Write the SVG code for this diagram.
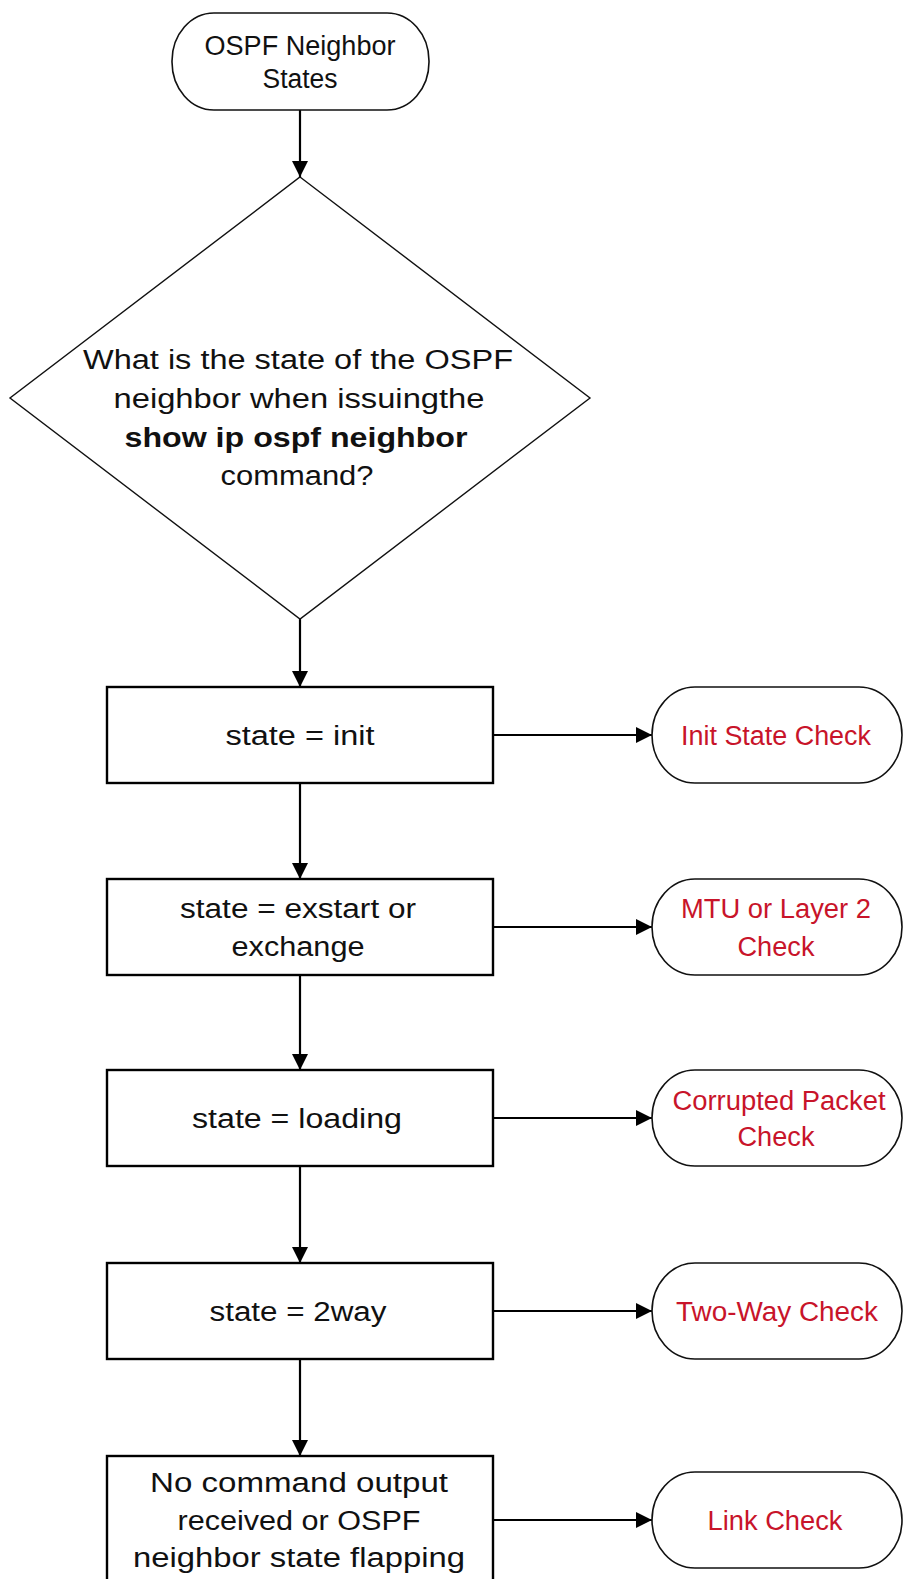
<svg xmlns="http://www.w3.org/2000/svg" width="903" height="1579" viewBox="0 0 903 1579">
  <defs>
    <marker id="ah" viewBox="0 0 16 16" refX="16" refY="8" markerWidth="16" markerHeight="16" orient="auto" markerUnits="userSpaceOnUse">
      <path d="M0,0 L16,8 L0,16 z" fill="#000"/>
    </marker>
    <style>
      .box { fill: #fff; stroke: #000; stroke-width: 2.4; }
      .term { fill: #fff; stroke: #111; stroke-width: 1.6; }
      .dia { fill: #fff; stroke: #111; stroke-width: 1.4; }
      .conn { fill: none; stroke: #000; stroke-width: 2.2; marker-end: url(#ah); }
      text { font-family: "Liberation Sans", Arial, sans-serif; font-size: 27px; text-anchor: middle; fill: #111; }
      .red { fill: #c8142a; }
      .b { font-weight: bold; }
    </style>
  </defs>
  <rect width="903" height="1579" fill="#fff"/>

  <g id="connectors">
    <line class="conn" x1="300" y1="110" x2="300" y2="177"/>
    <line class="conn" x1="300" y1="619" x2="300" y2="687"/>
    <line class="conn" x1="300" y1="783" x2="300" y2="879"/>
    <line class="conn" x1="300" y1="975" x2="300" y2="1070"/>
    <line class="conn" x1="300" y1="1166" x2="300" y2="1263"/>
    <line class="conn" x1="300" y1="1359" x2="300" y2="1456"/>
    <line class="conn" x1="493" y1="735" x2="652" y2="735"/>
    <line class="conn" x1="493" y1="927" x2="652" y2="927"/>
    <line class="conn" x1="493" y1="1118" x2="652" y2="1118"/>
    <line class="conn" x1="493" y1="1311" x2="652" y2="1311"/>
    <line class="conn" x1="493" y1="1520" x2="652" y2="1520"/>
  </g>

  <g id="start">
    <rect class="term" x="172" y="13" width="257" height="97" rx="42" ry="48"/>
    <text x="300" y="55" textLength="191" lengthAdjust="spacingAndGlyphs">OSPF Neighbor</text>
    <text x="300" y="88" textLength="75" lengthAdjust="spacingAndGlyphs">States</text>
  </g>

  <g id="decision">
    <polygon class="dia" points="300,177 590,398 300,619 10,398"/>
    <text x="298" y="369" textLength="430" lengthAdjust="spacingAndGlyphs">What is the state of the OSPF</text>
    <text x="299" y="408" textLength="371" lengthAdjust="spacingAndGlyphs">neighbor when issuingthe</text>
    <text class="b" x="296" y="447" textLength="343" lengthAdjust="spacingAndGlyphs">show ip ospf neighbor</text>
    <text x="297" y="485" textLength="153" lengthAdjust="spacingAndGlyphs">command?</text>
  </g>

  <g id="s-init">
    <rect class="box" x="107" y="687" width="386" height="96"/>
    <text x="300" y="745" textLength="149" lengthAdjust="spacingAndGlyphs">state = init</text>
  </g>
  <g id="c-init">
    <rect class="term" x="652" y="687" width="250" height="96" rx="43" ry="48"/>
    <text class="red" x="776" y="745" textLength="190" lengthAdjust="spacingAndGlyphs">Init State Check</text>
  </g>

  <g id="s-exstart">
    <rect class="box" x="107" y="879" width="386" height="96"/>
    <text x="298" y="918" textLength="236" lengthAdjust="spacingAndGlyphs">state = exstart or</text>
    <text x="298" y="956" textLength="133" lengthAdjust="spacingAndGlyphs">exchange</text>
  </g>
  <g id="c-mtu">
    <rect class="term" x="652" y="879" width="250" height="96" rx="43" ry="48"/>
    <text class="red" x="776" y="918" textLength="190" lengthAdjust="spacingAndGlyphs">MTU or Layer 2</text>
    <text class="red" x="776" y="956" textLength="77" lengthAdjust="spacingAndGlyphs">Check</text>
  </g>

  <g id="s-loading">
    <rect class="box" x="107" y="1070" width="386" height="96"/>
    <text x="297" y="1128" textLength="210" lengthAdjust="spacingAndGlyphs">state = loading</text>
  </g>
  <g id="c-corrupt">
    <rect class="term" x="652" y="1070" width="250" height="96" rx="43" ry="48"/>
    <text class="red" x="779" y="1110" textLength="213" lengthAdjust="spacingAndGlyphs">Corrupted Packet</text>
    <text class="red" x="776" y="1146" textLength="77" lengthAdjust="spacingAndGlyphs">Check</text>
  </g>

  <g id="s-2way">
    <rect class="box" x="107" y="1263" width="386" height="96"/>
    <text x="298" y="1321" textLength="177" lengthAdjust="spacingAndGlyphs">state = 2way</text>
  </g>
  <g id="c-2way">
    <rect class="term" x="652" y="1263" width="250" height="96" rx="43" ry="48"/>
    <text class="red" x="777" y="1321" textLength="202" lengthAdjust="spacingAndGlyphs">Two-Way Check</text>
  </g>

  <g id="s-none">
    <rect class="box" x="107" y="1456" width="386" height="130"/>
    <text x="299" y="1492" textLength="298" lengthAdjust="spacingAndGlyphs">No command output</text>
    <text x="299" y="1530" textLength="243" lengthAdjust="spacingAndGlyphs">received or OSPF</text>
    <text x="299" y="1567" textLength="332" lengthAdjust="spacingAndGlyphs">neighbor state flapping</text>
  </g>
  <g id="c-link">
    <rect class="term" x="652" y="1472" width="250" height="96" rx="43" ry="48"/>
    <text class="red" x="775" y="1530" textLength="135" lengthAdjust="spacingAndGlyphs">Link Check</text>
  </g>
</svg>
